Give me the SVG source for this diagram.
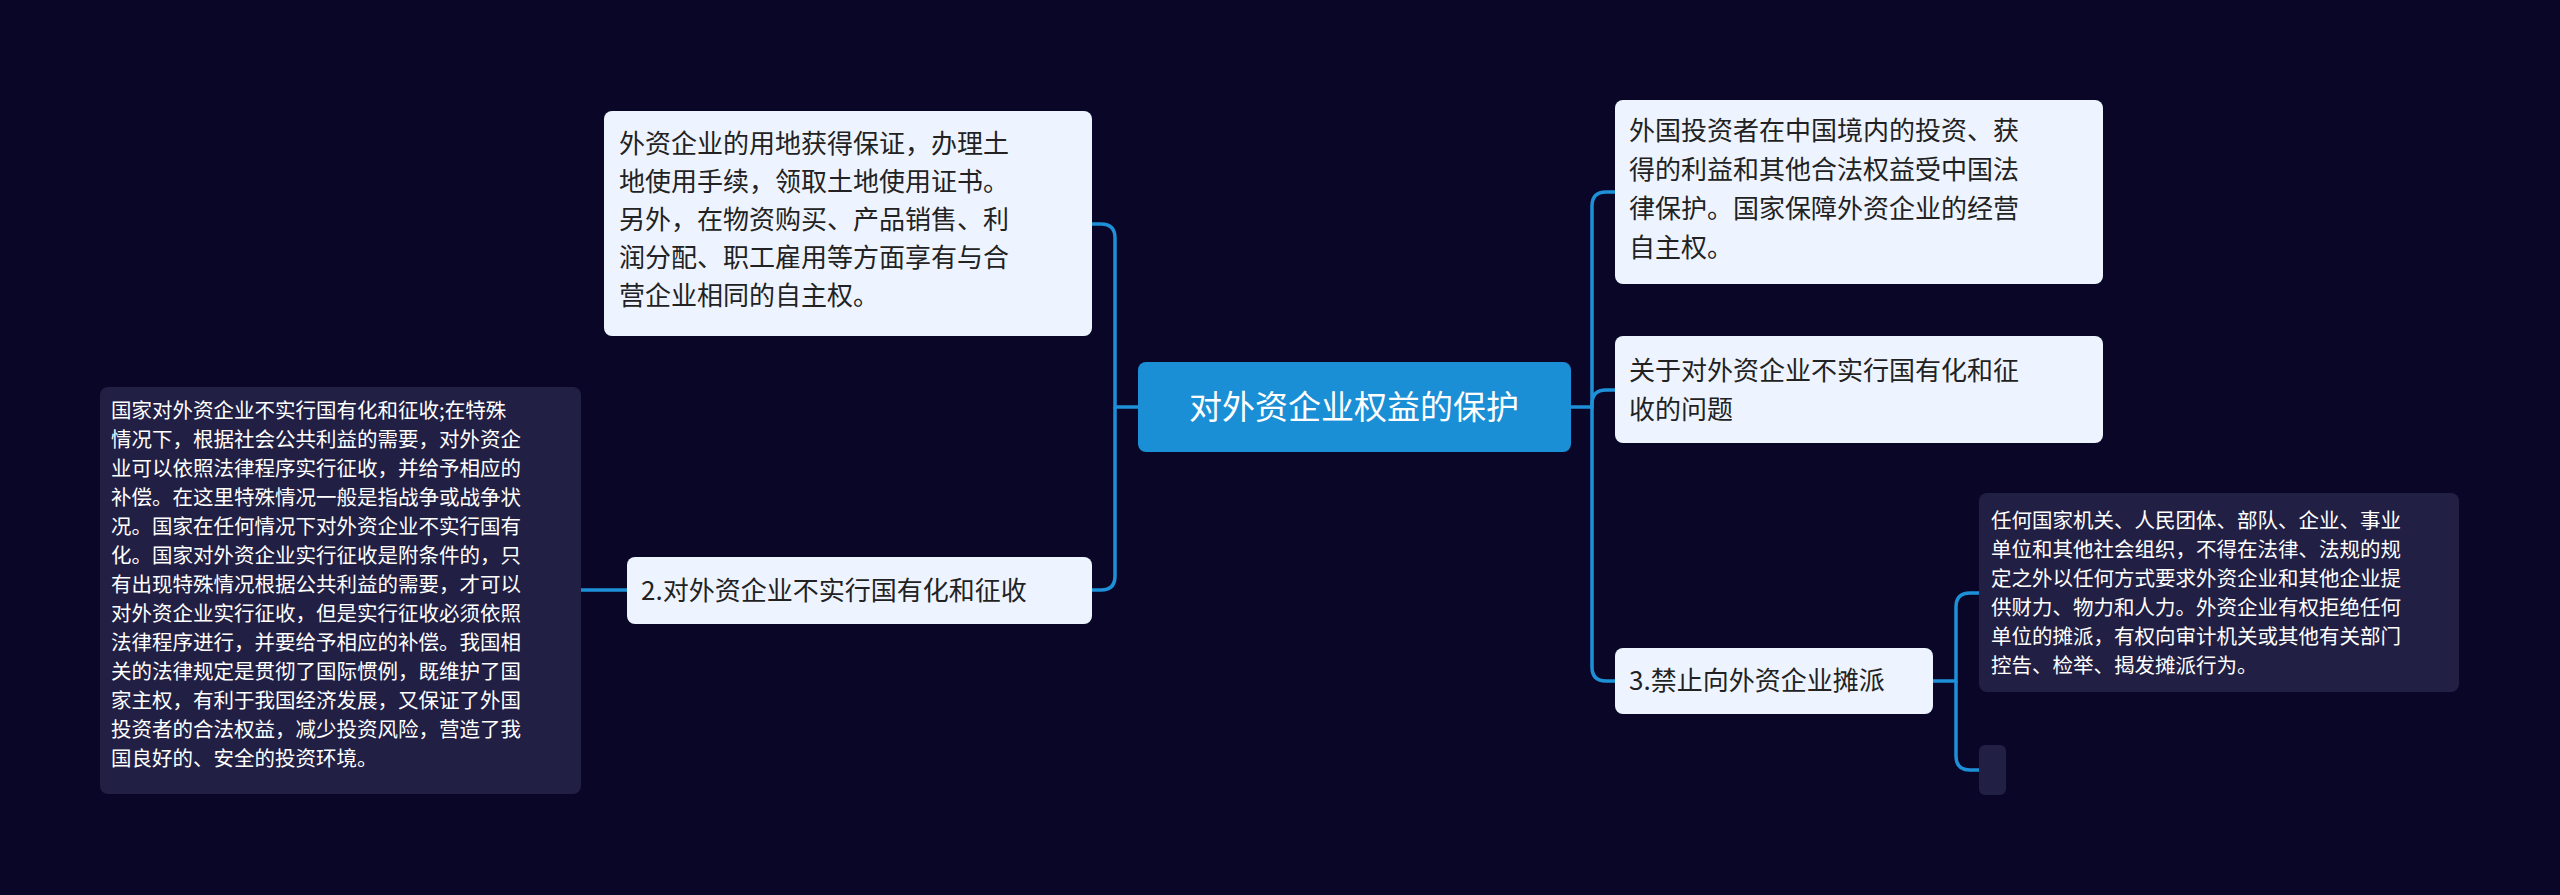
<svg xmlns="http://www.w3.org/2000/svg" width="2560" height="895" viewBox="0 0 2560 895">
<style>
.c{fill:none;stroke:#1e90d8;stroke-width:3.5}
.lt{fill:#eef4ff}
.dk{fill:#221f45}
.t{font-family:"Noto Sans CJK SC","Noto Sans",sans-serif;fill:#222;font-size:26px}
.w{font-family:"Noto Sans CJK SC","Noto Sans",sans-serif;fill:#fff;font-size:20.5px}
</style>
<rect width="2560" height="895" fill="#0a0628"/>
<g id="connectors">
<path class="c" d="M1138 407H1115V238Q1115 224 1101 224H1092"/>
<path class="c" d="M1115 407V576Q1115 590 1101 590H1092"/>
<path class="c" d="M1571 407H1592V206Q1592 192 1606 192H1615"/>
<path class="c" d="M1592 407V404Q1592 390 1606 390H1615"/>
<path class="c" d="M1592 407V667Q1592 681 1606 681H1615"/>
<path class="c" d="M627 590H581"/>
<path class="c" d="M1933 681H1956V607Q1956 593 1970 593H1979"/>
<path class="c" d="M1956 681V756Q1956 770 1970 770H1979"/>
</g>
<g id="center">
<rect x="1138" y="362" width="433" height="90" rx="8" fill="#1a8fd6"/>
<text x="1354" y="419" text-anchor="middle" font-family="Noto Sans CJK SC,sans-serif" font-size="33" fill="#fff">对外资企业权益的保护</text>
</g>
<g id="n1">
<rect class="lt" x="604" y="111" width="488" height="225" rx="8"/>
<text class="t" x="619"><tspan x="619" y="153">外资企业的用地获得保证，办理土</tspan><tspan x="619" y="191">地使用手续，领取土地使用证书。</tspan><tspan x="619" y="229">另外，在物资购买、产品销售、利</tspan><tspan x="619" y="267">润分配、职工雇用等方面享有与合</tspan><tspan x="619" y="305">营企业相同的自主权。</tspan></text>
</g>
<g id="n2">
<rect class="lt" x="627" y="557" width="465" height="67" rx="8"/>
<text class="t" x="641" y="600">2.对外资企业不实行国有化和征收</text>
</g>
<g id="n2d">
<rect class="dk" x="100" y="387" width="481" height="407" rx="8"/>
<text class="w"><tspan x="111" y="418">国家对外资企业不实行国有化和征收;在特殊</tspan><tspan x="111" y="447">情况下，根据社会公共利益的需要，对外资企</tspan><tspan x="111" y="476">业可以依照法律程序实行征收，并给予相应的</tspan><tspan x="111" y="505">补偿。在这里特殊情况一般是指战争或战争状</tspan><tspan x="111" y="534">况。国家在任何情况下对外资企业不实行国有</tspan><tspan x="111" y="563">化。国家对外资企业实行征收是附条件的，只</tspan><tspan x="111" y="592">有出现特殊情况根据公共利益的需要，才可以</tspan><tspan x="111" y="621">对外资企业实行征收，但是实行征收必须依照</tspan><tspan x="111" y="650">法律程序进行，并要给予相应的补偿。我国相</tspan><tspan x="111" y="679">关的法律规定是贯彻了国际惯例，既维护了国</tspan><tspan x="111" y="708">家主权，有利于我国经济发展，又保证了外国</tspan><tspan x="111" y="737">投资者的合法权益，减少投资风险，营造了我</tspan><tspan x="111" y="766">国良好的、安全的投资环境。</tspan></text>
</g>
<g id="r1">
<rect class="lt" x="1615" y="100" width="488" height="184" rx="8"/>
<text class="t"><tspan x="1629" y="140">外国投资者在中国境内的投资、获</tspan><tspan x="1629" y="179">得的利益和其他合法权益受中国法</tspan><tspan x="1629" y="218">律保护。国家保障外资企业的经营</tspan><tspan x="1629" y="257">自主权。</tspan></text>
</g>
<g id="r2">
<rect class="lt" x="1615" y="336" width="488" height="107" rx="8"/>
<text class="t"><tspan x="1629" y="380">关于对外资企业不实行国有化和征</tspan><tspan x="1629" y="419">收的问题</tspan></text>
</g>
<g id="r3">
<rect class="lt" x="1615" y="648" width="318" height="66" rx="8"/>
<text class="t" x="1629" y="690">3.禁止向外资企业摊派</text>
</g>
<g id="r3d">
<rect class="dk" x="1979" y="493" width="480" height="199" rx="8"/>
<text class="w"><tspan x="1991" y="528">任何国家机关、人民团体、部队、企业、事业</tspan><tspan x="1991" y="557">单位和其他社会组织，不得在法律、法规的规</tspan><tspan x="1991" y="586">定之外以任何方式要求外资企业和其他企业提</tspan><tspan x="1991" y="615">供财力、物力和人力。外资企业有权拒绝任何</tspan><tspan x="1991" y="644">单位的摊派，有权向审计机关或其他有关部门</tspan><tspan x="1991" y="673">控告、检举、揭发摊派行为。</tspan></text>
</g>
<g id="r3e">
<rect class="dk" x="1979" y="745" width="27" height="50" rx="6"/>
</g>
</svg>
